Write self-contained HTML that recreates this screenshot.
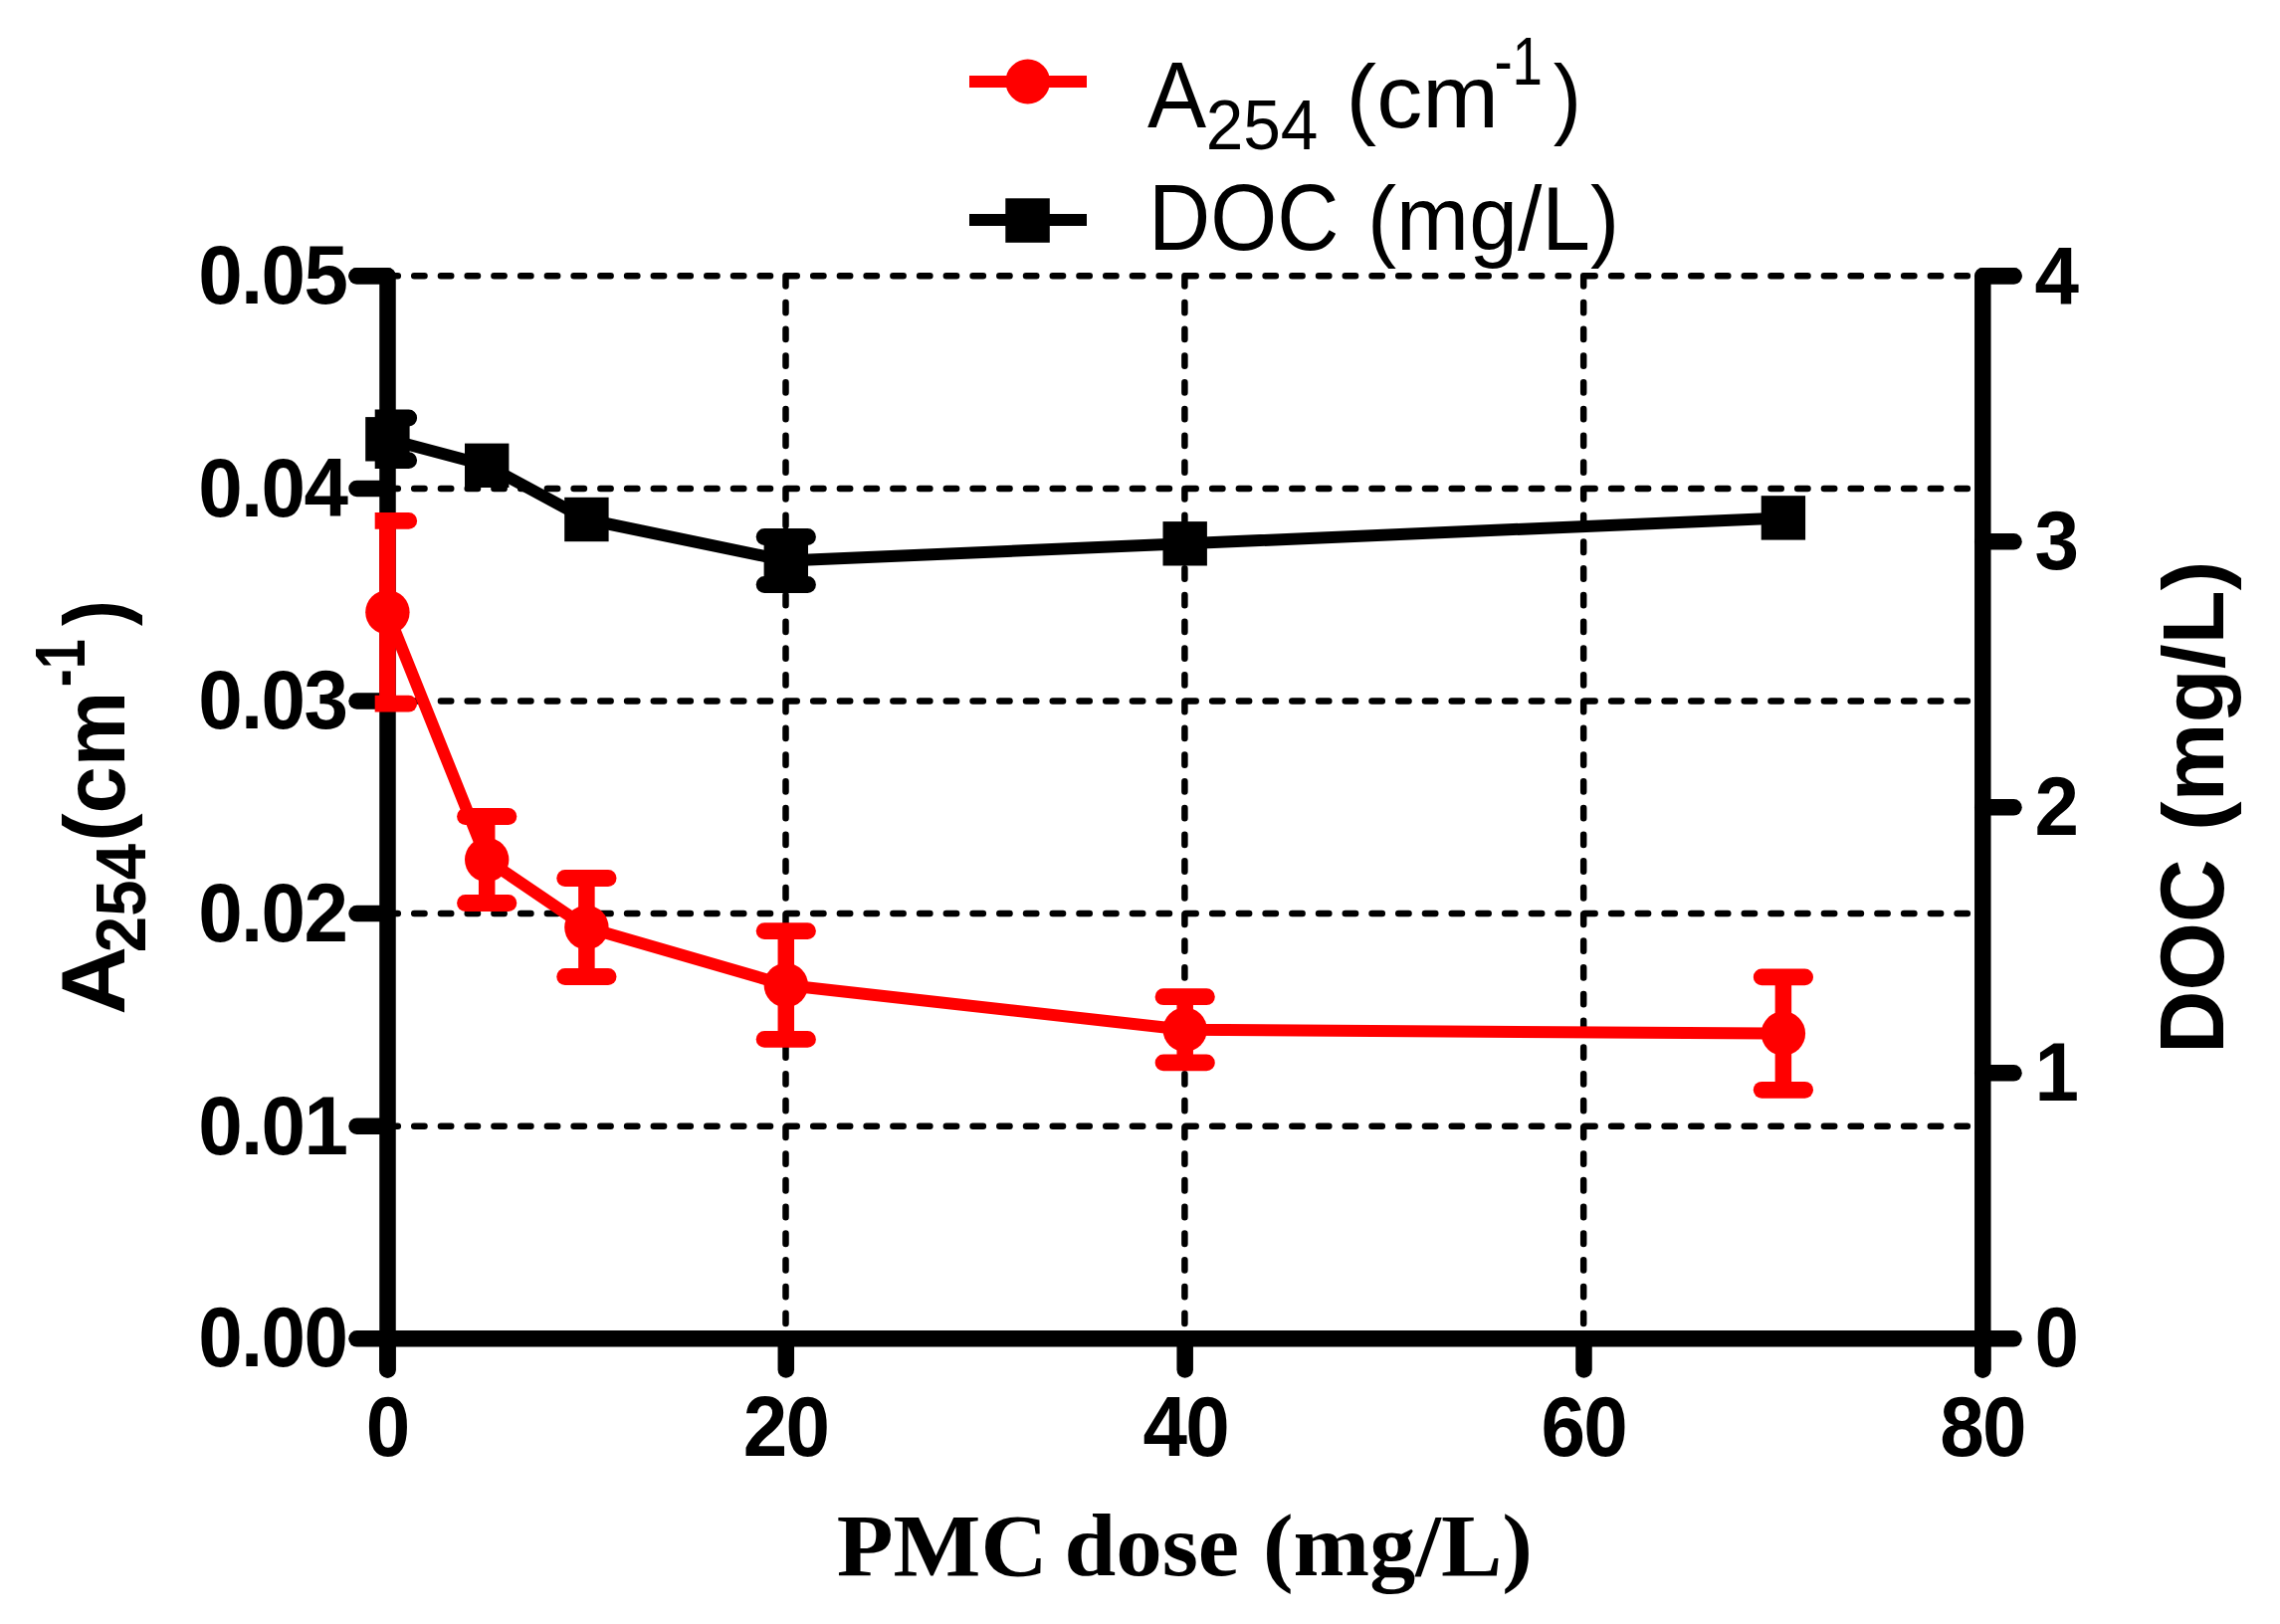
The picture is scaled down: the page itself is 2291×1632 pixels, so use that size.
<!DOCTYPE html>
<html lang="en"><head><meta charset="utf-8"><title>PMC dose chart</title>
<style>html,body{margin:0;padding:0;background:#fff}body{width:2291px;height:1632px;overflow:hidden}svg{display:block}.tb{font-family:"Liberation Sans",Arial,sans-serif;font-weight:bold;fill:#000}.tr{font-family:"Liberation Sans",Arial,sans-serif;font-weight:normal;fill:#000}.ts{font-family:"Liberation Serif","Times New Roman",serif;font-weight:bold;fill:#000}</style></head><body>
<svg width="2291" height="1632" viewBox="0 0 2291 1632" shape-rendering="geometricPrecision">
<rect width="2291" height="1632" fill="#fff"/>
<g stroke="#000" stroke-width="6.5" stroke-linecap="round" stroke-dasharray="10.3 16.43" fill="none">
<line x1="389.5" y1="1131.7" x2="1978.3" y2="1131.7"/>
<line x1="389.5" y1="918.1" x2="1978.3" y2="918.1"/>
<line x1="389.5" y1="704.5" x2="1978.3" y2="704.5"/>
<line x1="389.5" y1="490.9" x2="1978.3" y2="490.9"/>
<line x1="389.5" y1="277.3" x2="1978.3" y2="277.3"/>
<line x1="789.5" y1="277.3" x2="789.5" y2="1335.3"/>
<line x1="1190.4" y1="277.3" x2="1190.4" y2="1335.3"/>
<line x1="1591.2" y1="277.3" x2="1591.2" y2="1335.3"/>
</g>
<g stroke="#000" stroke-width="16.5" stroke-linecap="round" fill="none">
<path d="M358.5 277.3H389.5V1376.5" stroke-linejoin="round"/>
<path d="M2023.5 277.3H1992.3V1376.5" stroke-linejoin="round"/>
<line x1="358.5" y1="1345.3" x2="2023.5" y2="1345.3"/>
<line x1="358.5" y1="1131.7" x2="389.5" y2="1131.7"/>
<line x1="358.5" y1="918.1" x2="389.5" y2="918.1"/>
<line x1="358.5" y1="704.5" x2="389.5" y2="704.5"/>
<line x1="358.5" y1="490.9" x2="389.5" y2="490.9"/>
<line x1="358.5" y1="277.3" x2="389.5" y2="277.3"/>
<line x1="1992.3" y1="1078.3" x2="2023.5" y2="1078.3"/>
<line x1="1992.3" y1="811.3" x2="2023.5" y2="811.3"/>
<line x1="1992.3" y1="544.3" x2="2023.5" y2="544.3"/>
<line x1="1992.3" y1="277.3" x2="2023.5" y2="277.3"/>
<line x1="389.4" y1="1345.3" x2="389.4" y2="1376.5"/>
<line x1="789.8" y1="1345.3" x2="789.8" y2="1376.5"/>
<line x1="1190.7" y1="1345.3" x2="1190.7" y2="1376.5"/>
<line x1="1591.5" y1="1345.3" x2="1591.5" y2="1376.5"/>
<line x1="1992.3" y1="1345.3" x2="1992.3" y2="1376.5"/>
</g>
<text class="tb" font-size="80" letter-spacing="-1.7" transform="translate(199.30,1373.10) scale(1.0000,1.0600)">0.00</text>
<text class="tb" font-size="80" letter-spacing="-1.7" transform="translate(199.30,1159.50) scale(1.0000,1.0450)">0.01</text>
<text class="tb" font-size="80" letter-spacing="-1.7" transform="translate(199.30,945.90) scale(1.0000,1.0450)">0.02</text>
<text class="tb" font-size="80" letter-spacing="-1.7" transform="translate(199.30,732.30) scale(1.0000,1.0450)">0.03</text>
<text class="tb" font-size="80" letter-spacing="-1.7" transform="translate(199.30,518.70) scale(1.0000,1.0450)">0.04</text>
<text class="tb" font-size="80" letter-spacing="-1.7" transform="translate(199.30,305.10) scale(1.0000,1.0450)">0.05</text>
<text class="tb" font-size="80" transform="translate(2044.60,1373.10) scale(1.0000,1.0600)">0</text>
<text class="tb" font-size="80" transform="translate(2044.60,1106.10) scale(1.0000,1.0400)">1</text>
<text class="tb" font-size="80" transform="translate(2044.60,839.10) scale(1.0000,1.0450)">2</text>
<text class="tb" font-size="80" transform="translate(2044.60,572.10) scale(1.0000,1.0500)">3</text>
<text class="tb" font-size="80" transform="translate(2044.60,305.10) scale(1.0000,1.0200)">4</text>
<text class="tb" font-size="80" letter-spacing="-1.7" transform="translate(367.80,1463.00) scale(1,1.0600)">0</text>
<text class="tb" font-size="80" letter-spacing="-1.7" transform="translate(746.73,1463.00) scale(1,1.0600)">20</text>
<text class="tb" font-size="80" letter-spacing="-1.7" transform="translate(1148.55,1463.00) scale(1,1.0600)">40</text>
<text class="tb" font-size="80" letter-spacing="-1.7" transform="translate(1548.38,1463.00) scale(1,1.0600)">60</text>
<text class="tb" font-size="80" letter-spacing="-1.7" transform="translate(1949.20,1463.00) scale(1,1.0600)">80</text>
<text class="ts" font-size="91" transform="translate(840.75,1582.60) scale(1.0232,0.9720)">PMC</text>
<text class="ts" font-size="91" transform="translate(1069.41,1582.60) scale(1.0223,0.9720)">dose</text>
<text class="ts" font-size="91" transform="translate(1268.95,1582.60) scale(1.0119,0.9720)">(mg/L)</text>
<text class="tb" font-size="87" transform="translate(2234.00,1058.97) rotate(-90) scale(1.0114,1.0540)">DOC</text>
<text class="tb" font-size="87" transform="translate(2234.00,834.99) rotate(-90) scale(1.0214,1.0100)">(mg/L)</text>
<text class="tb" font-size="87" transform="translate(125.00,1019.89) rotate(-90) scale(1.0982,1.0500)">A</text>
<text class="tb" font-size="66" transform="translate(145.80,957.19) rotate(-90) scale(0.9926,1.0600)">254</text>
<text class="tb" font-size="87" transform="translate(124.80,845.81) rotate(-90) scale(0.9779,1.0000)">(cm</text>
<text class="tb" font-size="66" transform="translate(85.20,690.25) rotate(-90) scale(0.8167,1.0600)">-1</text>
<text class="tb" font-size="87" transform="translate(124.80,629.00) rotate(-90) scale(0.8960,1.0000)">)</text>
<line x1="974" y1="82" x2="1092" y2="82" stroke="#f00" stroke-width="12"/>
<circle cx="1032.7" cy="82" r="22.4" fill="#f00"/>
<line x1="974" y1="221" x2="1092" y2="221" stroke="#000" stroke-width="12"/>
<rect x="1010.3" y="199.3" width="44.5" height="44.5" fill="#000"/>
<text class="tr" font-size="88" transform="translate(1152.89,127.80) scale(1.0070,1.0650)">A</text>
<text class="tr" font-size="66" transform="translate(1211.63,150.00) scale(1.0238,1.0650)">254</text>
<text class="tr" font-size="88" transform="translate(1352.47,127.80) scale(1.0463,1.0100)">(cm</text>
<text class="tr" font-size="66" transform="translate(1501.41,85.00) scale(0.8288,1.0400)">-1</text>
<text class="tr" font-size="88" transform="translate(1560.83,127.80) scale(0.9652,1.0100)">)</text>
<text class="tr" font-size="88" transform="translate(1154.05,251.00) scale(0.9784,1.0650)">DOC</text>
<text class="tr" font-size="88" transform="translate(1373.92,250.80) scale(0.9963,1.0250)">(mg/L)</text>
<g stroke="#f00" fill="#f00">
<polyline fill="none" stroke-width="12" stroke-linejoin="round" points="389.4,615.3 489.2,864.0 589.4,932.0 789.8,990.0 1190.7,1034.8 1791.9,1038.6"/>
<line x1="389.4" y1="523.4" x2="389.4" y2="707.2" stroke-width="16.5"/>
<path d="M376.7 515.0H410.7A8.4 8.4 0 0 1 410.7 531.8H376.7Z" stroke="none"/>
<path d="M376.7 698.8H410.7A8.4 8.4 0 0 1 410.7 715.6H376.7Z" stroke="none"/>
<circle cx="389.4" cy="615.3" r="22.2" stroke="none"/>
<line x1="489.2" y1="820.5" x2="489.2" y2="907.5" stroke-width="16.5"/>
<line x1="467.5" y1="820.5" x2="510.9" y2="820.5" stroke-width="16.8" stroke-linecap="round"/>
<line x1="467.5" y1="907.5" x2="510.9" y2="907.5" stroke-width="16.8" stroke-linecap="round"/>
<circle cx="489.2" cy="864.0" r="22.2" stroke="none"/>
<line x1="589.4" y1="882.5" x2="589.4" y2="981.5" stroke-width="16.5"/>
<line x1="567.7" y1="882.5" x2="611.1" y2="882.5" stroke-width="16.8" stroke-linecap="round"/>
<line x1="567.7" y1="981.5" x2="611.1" y2="981.5" stroke-width="16.8" stroke-linecap="round"/>
<circle cx="589.4" cy="932.0" r="22.2" stroke="none"/>
<line x1="789.8" y1="935.6" x2="789.8" y2="1044.4" stroke-width="16.5"/>
<line x1="768.1" y1="935.6" x2="811.5" y2="935.6" stroke-width="16.8" stroke-linecap="round"/>
<line x1="768.1" y1="1044.4" x2="811.5" y2="1044.4" stroke-width="16.8" stroke-linecap="round"/>
<circle cx="789.8" cy="990.0" r="22.2" stroke="none"/>
<line x1="1190.7" y1="1001.7" x2="1190.7" y2="1067.9" stroke-width="16.5"/>
<line x1="1169.0" y1="1001.7" x2="1212.4" y2="1001.7" stroke-width="16.8" stroke-linecap="round"/>
<line x1="1169.0" y1="1067.9" x2="1212.4" y2="1067.9" stroke-width="16.8" stroke-linecap="round"/>
<circle cx="1190.7" cy="1034.8" r="22.2" stroke="none"/>
<line x1="1791.9" y1="981.9" x2="1791.9" y2="1095.3" stroke-width="16.5"/>
<line x1="1770.2" y1="981.9" x2="1813.6" y2="981.9" stroke-width="16.8" stroke-linecap="round"/>
<line x1="1770.2" y1="1095.3" x2="1813.6" y2="1095.3" stroke-width="16.8" stroke-linecap="round"/>
<circle cx="1791.9" cy="1038.6" r="22.2" stroke="none"/>
</g>
<g stroke="#000" fill="#000">
<polyline fill="none" stroke-width="12" stroke-linejoin="round" points="389.4,441.3 489.2,467.8 589.4,522.0 789.8,563.5 1190.7,546.3 1791.9,520.4"/>
<line x1="389.4" y1="420.0" x2="389.4" y2="462.6" stroke-width="16.5"/>
<path d="M376.7 411.6H410.7A8.4 8.4 0 0 1 410.7 428.4H376.7Z" stroke="none"/>
<path d="M376.7 454.2H410.7A8.4 8.4 0 0 1 410.7 471.0H376.7Z" stroke="none"/>
<rect x="367.2" y="419.1" width="44.4" height="44.4" stroke="none"/>
<rect x="467.0" y="445.6" width="44.4" height="44.4" stroke="none"/>
<rect x="567.2" y="499.8" width="44.4" height="44.4" stroke="none"/>
<line x1="789.8" y1="539.5" x2="789.8" y2="587.5" stroke-width="16.5"/>
<line x1="768.1" y1="539.5" x2="811.5" y2="539.5" stroke-width="16.8" stroke-linecap="round"/>
<line x1="768.1" y1="587.5" x2="811.5" y2="587.5" stroke-width="16.8" stroke-linecap="round"/>
<rect x="767.6" y="541.3" width="44.4" height="44.4" stroke="none"/>
<rect x="1168.5" y="524.1" width="44.4" height="44.4" stroke="none"/>
<rect x="1769.7" y="498.2" width="44.4" height="44.4" stroke="none"/>
</g>
</svg></body></html>
